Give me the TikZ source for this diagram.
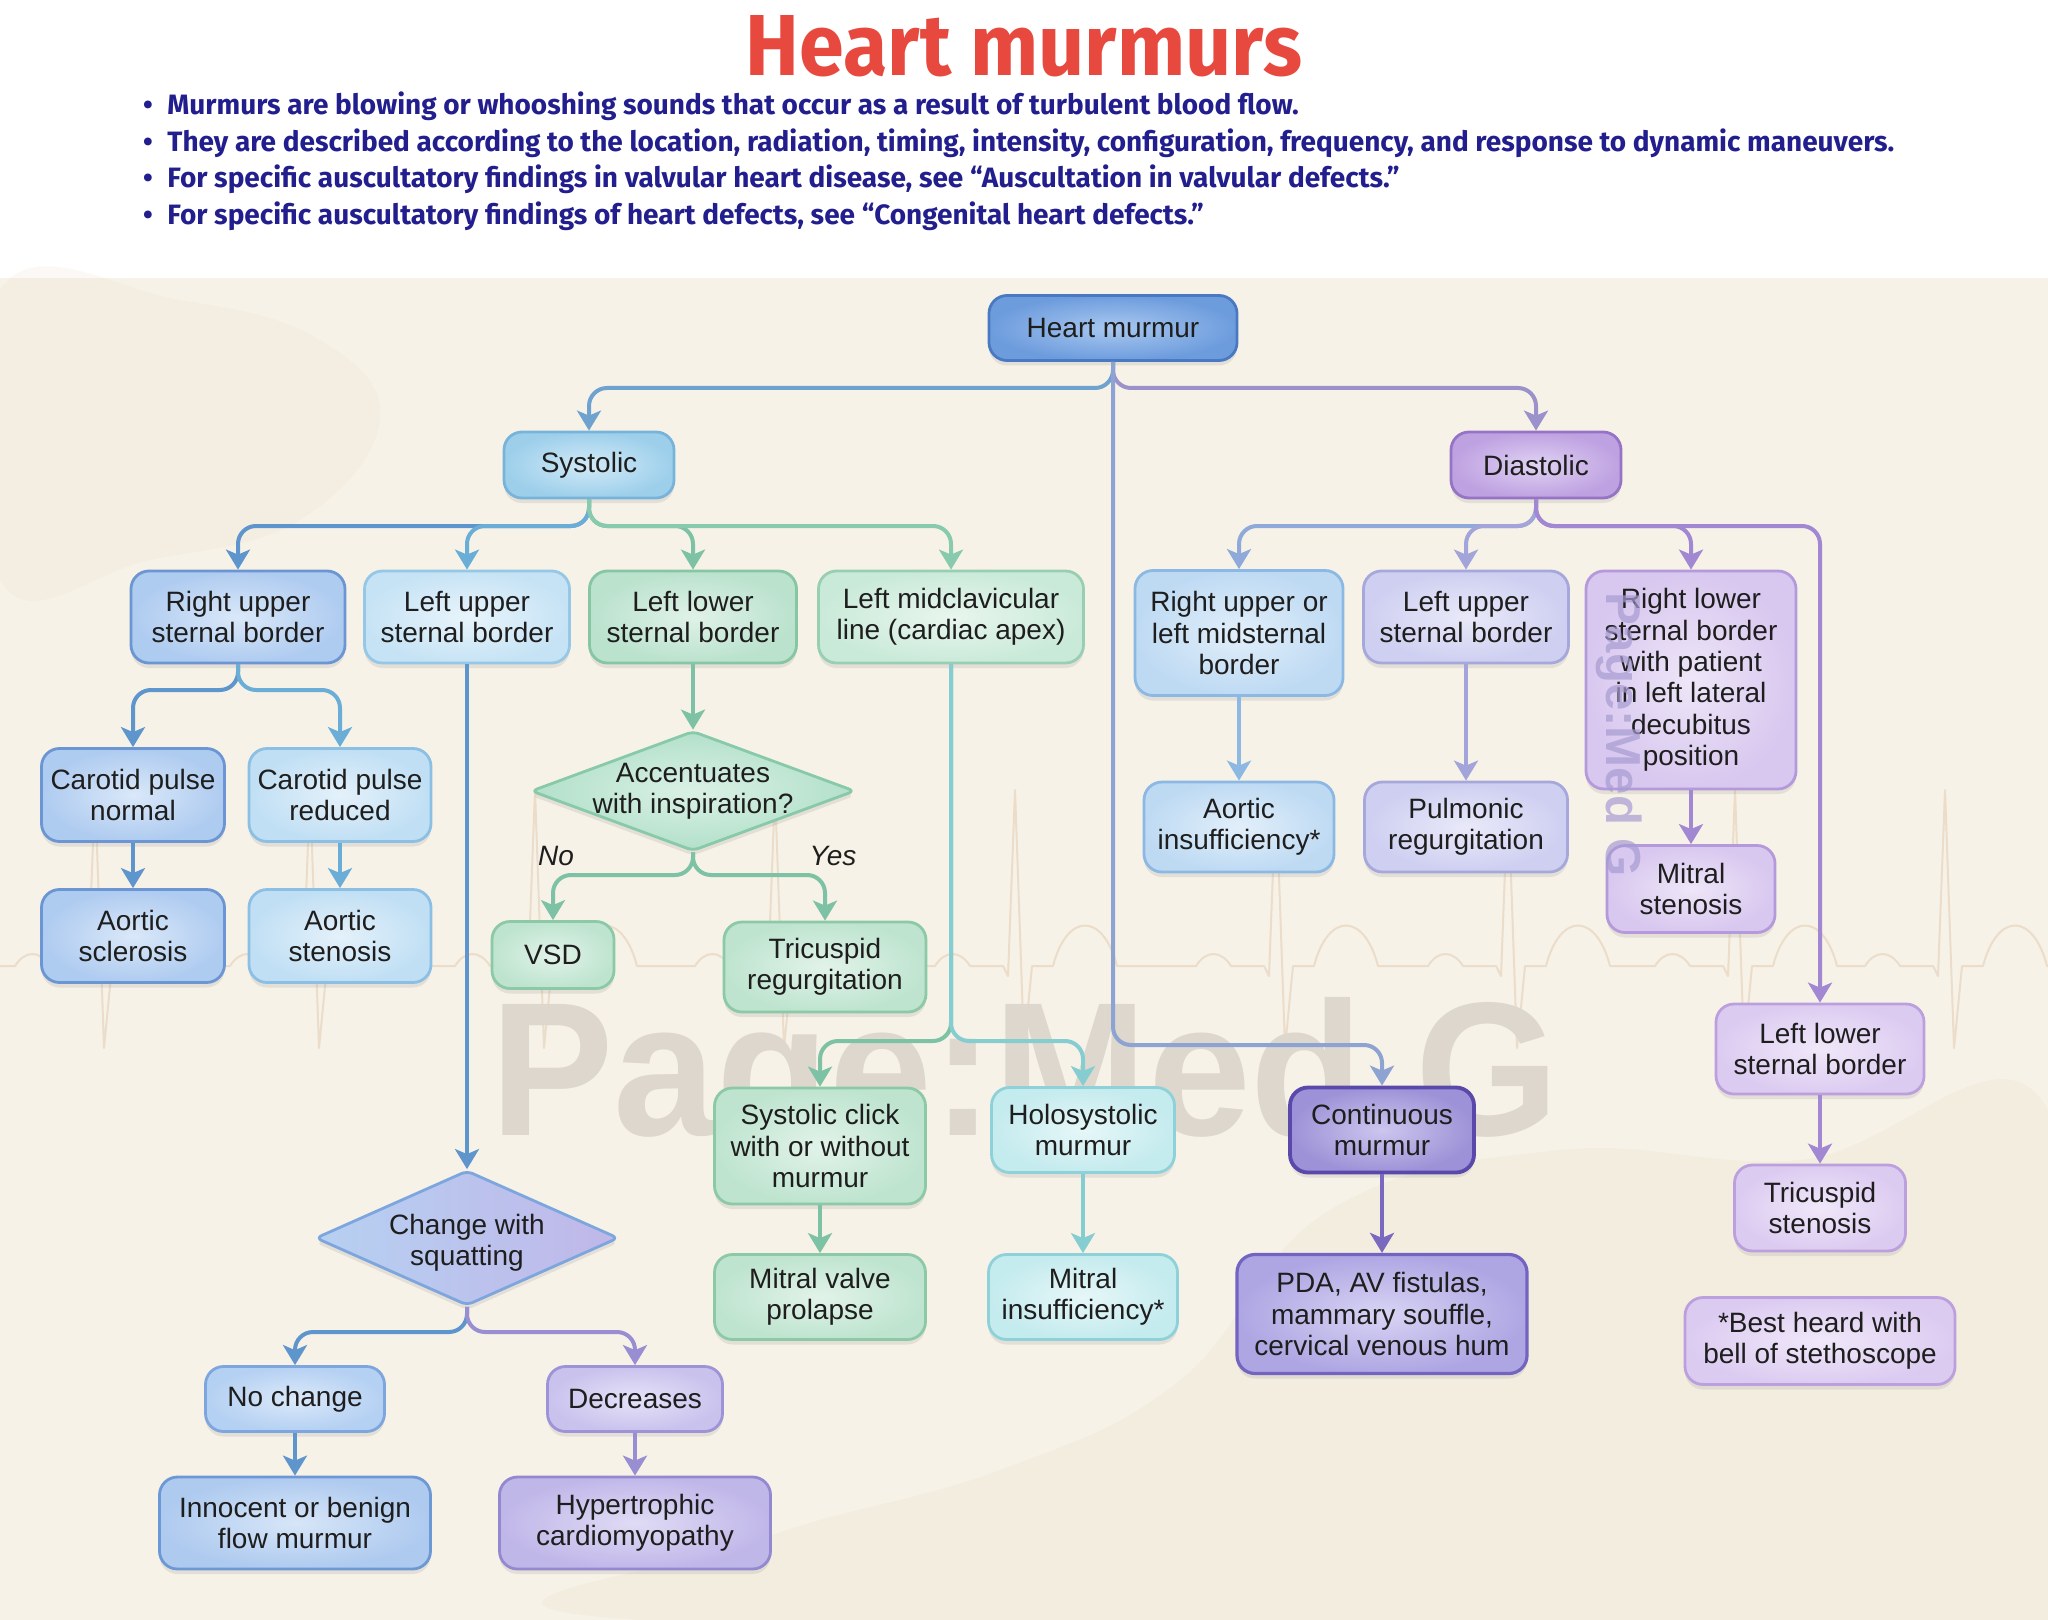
\documentclass[tikz,border=0pt]{standalone}
\usepackage{fontspec}
\setmainfont{Liberation Sans}
\newfontfamily\headfont{Fira Sans}
\usetikzlibrary{arrows.meta,shapes.geometric,shadows}
% palettes: D border, O outer fill, I inner fill
\definecolor{hmD}{HTML}{4A79C3}\definecolor{hmO}{HTML}{6D9CDD}\definecolor{hmI}{HTML}{A9C8F0}
\definecolor{syD}{HTML}{78B4DA}\definecolor{syO}{HTML}{9DCFEB}\definecolor{syI}{HTML}{D2EAF7}
\definecolor{diD}{HTML}{9573C6}\definecolor{diO}{HTML}{BEA1E1}\definecolor{diI}{HTML}{E0D2F3}
\definecolor{ruD}{HTML}{6C96D3}\definecolor{ruO}{HTML}{AECBF0}\definecolor{ruI}{HTML}{DAE8F9}
\definecolor{luD}{HTML}{95C7E6}\definecolor{luO}{HTML}{C6E3F5}\definecolor{luI}{HTML}{E8F4FB}
\definecolor{llD}{HTML}{86C6A5}\definecolor{llO}{HTML}{BAE2CD}\definecolor{llI}{HTML}{E0F2E8}
\definecolor{lmD}{HTML}{98CFB2}\definecolor{lmO}{HTML}{CAEAD9}\definecolor{lmI}{HTML}{E8F6EE}
\definecolor{crD}{HTML}{8BC0E4}\definecolor{crO}{HTML}{C0DFF4}\definecolor{crI}{HTML}{E4F1FA}
\definecolor{acD}{HTML}{88C9A9}\definecolor{acO}{HTML}{B2E0CA}\definecolor{acI}{HTML}{DAF1E5}
\definecolor{gnD}{HTML}{8BC9A7}\definecolor{gnO}{HTML}{BEE4CF}\definecolor{gnI}{HTML}{E2F3E9}
\definecolor{tlD}{HTML}{8ED1D8}\definecolor{tlO}{HTML}{C4EBEE}\definecolor{tlI}{HTML}{E6F7F8}
\definecolor{coD}{HTML}{5A48AA}\definecolor{coO}{HTML}{9D92D7}\definecolor{coI}{HTML}{CDC6EE}
\definecolor{pdD}{HTML}{7264C0}\definecolor{pdO}{HTML}{AEA6E3}\definecolor{pdI}{HTML}{D8D4F4}
\definecolor{ncD}{HTML}{7CA6DD}\definecolor{ncO}{HTML}{B4D0F2}\definecolor{ncI}{HTML}{DBE9FA}
\definecolor{inD}{HTML}{6C99D6}\definecolor{inO}{HTML}{AECAEF}\definecolor{inI}{HTML}{D7E6F8}
\definecolor{deD}{HTML}{9D93D6}\definecolor{deO}{HTML}{C9C2ED}\definecolor{deI}{HTML}{E6E2F8}
\definecolor{hcD}{HTML}{9488D0}\definecolor{hcO}{HTML}{C0B7E9}\definecolor{hcI}{HTML}{E0DBF5}
\definecolor{rmD}{HTML}{8CB9E4}\definecolor{rmO}{HTML}{BEDAF3}\definecolor{rmI}{HTML}{E2EFFA}
\definecolor{dlD}{HTML}{A6A8DC}\definecolor{dlO}{HTML}{CECFF1}\definecolor{dlI}{HTML}{E9E9F9}
\definecolor{rlD}{HTML}{B59ADB}\definecolor{rlO}{HTML}{D8C7EF}\definecolor{rlI}{HTML}{EEE6F8}
\definecolor{dxD}{HTML}{BBA0DD}\definecolor{dxO}{HTML}{DCCBF1}\definecolor{dxI}{HTML}{F0E8F9}
% connectors
\definecolor{cHMs}{HTML}{6FA2CF}\definecolor{cHMd}{HTML}{9B92CB}\definecolor{cHMc}{HTML}{8DA3D2}
\definecolor{cRUSB}{HTML}{5E95CC}\definecolor{cLUSB}{HTML}{6AAED8}\definecolor{cLLSB}{HTML}{7DC2A4}
\definecolor{cLMCL}{HTML}{88CAAE}\definecolor{cTEAL}{HTML}{86CDD2}\definecolor{cPUR}{HTML}{A287D2}
\definecolor{cLAV}{HTML}{A3A4DA}\definecolor{cAI}{HTML}{8DB8E3}\definecolor{cCONT}{HTML}{7B69C0}
\definecolor{cDEC}{HTML}{9A8ED2}\definecolor{cRU}{HTML}{8FA9DA}
% misc
\definecolor{txt}{HTML}{1E1E1E}\definecolor{bg}{HTML}{F7F2E7}\definecolor{ecg}{HTML}{EBDDC9}
\definecolor{titlered}{HTML}{E8493F}\definecolor{bulletblue}{HTML}{221E8E}
\definecolor{wmark}{HTML}{DDD7CD}\definecolor{wmarkp}{HTML}{A79CD2}\definecolor{stain}{HTML}{EDE3D2}
\newcommand\boxfont{\fontsize{14pt}{15.7pt}\selectfont}
\newcommand\hdfont{\headfont\bfseries\fontsize{14pt}{16pt}\selectfont}
\newlength\bulletlen
\begin{document}
\settowidth\bulletlen{\hdfont They are described according to the location, radiation, timing, intensity, configuration, frequency, and response to dynamic maneuvers.}%
\pgfmathsetmacro\bsx{863.5/\bulletlen}%
\begin{tikzpicture}[x=0.5pt,y=-0.5pt,
  box/.style={rounded corners=9pt, line width=1.4pt, align=center, text=txt, font=\boxfont, inner sep=2pt,
    drop shadow={opacity=0.16, shadow xshift=0pt, shadow yshift=-2.5pt}},
  pal/.style={draw=#1D, inner color=#1I, outer color=#1O},
  sz/.style 2 args={minimum width=#1, minimum height=#2},
  conn/.style={line width=2pt, rounded corners=9pt, draw=#1, -{Stealth[length=10pt,width=12pt,inset=2.5pt]}},
  diam/.style={diamond, inner sep=0pt, rounded corners=3pt, line width=1.4pt,
    drop shadow={opacity=0.16, shadow xshift=0pt, shadow yshift=-2.5pt}},
  lbl/.style={align=center, text=txt, font=\boxfont, inner sep=0pt}]
\useasboundingbox (0,0) rectangle (2048,1620);
\fill[white] (0,0) rectangle (2048,278);
\fill[bg] (0,278) rectangle (2048,1620);
\fill[stain, opacity=0.3] plot[smooth cycle, tension=0.7] coordinates {(640,1620) (760,1540) (1000,1470) (1180,1380) (1330,1210) (1560,1150) (1800,1160) (2048,1110) (2048,1620)};
\fill[stain, opacity=0.22] plot[smooth cycle, tension=0.7] coordinates {(0,290) (180,300) (320,340) (380,420) (300,520) (150,560) (0,580)};
% ECG trace
\draw[ecg, line width=1pt, line join=round] (0,966)
  \foreach \x in {95,310,535,775,1015,1276,1508,1735,1945} {
    -- (\x-80,966) .. controls (\x-70,950) and (\x-55,950) .. (\x-45,966)
    -- (\x-12,966) -- (\x-7,976) -- (\x,790) -- (\x+9,1048) -- (\x+17,966)
    -- (\x+38,966) .. controls (\x+52,912) and (\x+88,912) .. (\x+102,966) }
  -- (2048,966);
% watermark
\node[anchor=base west, inner sep=0pt, text=wmark] (wm) at (490,1135)
  {\resizebox{534pt}{69pt}{\bfseries Page:Med G}};
% title and bullets
\node[anchor=base, inner sep=0pt, text=titlered] (title) at (1024,76)
  {\resizebox{278pt}{30pt}{\headfont\bfseries Heart murmurs}};
\foreach \yy/\nm/\tx in {
  115/b1/{Murmurs are blowing or whooshing sounds that occur as a result of turbulent blood flow.},
  151.5/b2/{They are described according to the location, radiation, timing, intensity, configuration, frequency, and response to dynamic maneuvers.},
  188/b3/{For specific auscultatory findings in valvular heart disease, see “Auscultation in valvular defects.”},
  224.5/b4/{For specific auscultatory findings of heart defects, see “Congenital heart defects.”}} {
  \node[anchor=base, inner sep=0pt, text=bulletblue] (\nm dot) at (148,\yy) {\hdfont •};
  \node[anchor=base west, inner sep=0pt, text=bulletblue] (\nm) at (167,\yy) {\scalebox{\bsx}[1]{\hdfont \tx}};
}
% ---------- nodes ----------
\node[box, pal=hm, sz={124pt}{32.5pt}] (hm) at (1113,328) {Heart murmur};
\node[box, pal=sy, sz={85pt}{33pt}] (sys) at (589,465) {Systolic};
\node[box, pal=di, sz={85pt}{33pt}] (dia) at (1536,465) {Diastolic};
\node[box, pal=ru, sz={107pt}{46pt}] (rusb) at (238,617) {Right upper\\sternal border};
\node[box, pal=lu, sz={102.5pt}{46pt}] (lusb) at (467,617) {Left upper\\sternal border};
\node[box, pal=ll, sz={103.5pt}{46pt}] (llsb) at (693,617) {Left lower\\sternal border};
\node[box, pal=lm, sz={132.5pt}{46pt}] (lmcl) at (951,617) {Left midclavicular\\line (cardiac apex)};
\node[box, pal=rm, sz={104pt}{62.5pt}] (rulm) at (1239,633) {Right upper or\\left midsternal\\border};
\node[box, pal=dl, sz={102.5pt}{46pt}] (dlusb) at (1466,617) {Left upper\\sternal border};
\node[box, pal=rl, sz={105pt}{109pt}] (rlsb) at (1691,680) {Right lower\\sternal border\\with patient\\in left lateral\\decubitus\\position};
\node[box, pal=ru, sz={91.5pt}{46.5pt}] (cpn) at (133,795) {Carotid pulse\\normal};
\node[box, pal=cr, sz={91pt}{46.5pt}] (cpr) at (340,795) {Carotid pulse\\reduced};
\node[box, pal=ru, sz={91.5pt}{46.5pt}] (asc) at (133,936) {Aortic\\sclerosis};
\node[box, pal=cr, sz={91pt}{46.5pt}] (ast) at (340,936) {Aortic\\stenosis};
\node[diam, pal=ac, minimum width=162pt, minimum height=60pt] (acc) at (693,791) {};
\node[lbl] (acct) at (acc) {Accentuates\\with inspiration?};
\node[lbl, font=\boxfont\itshape] (lno) at (556,856) {No};
\node[lbl, font=\boxfont\itshape] (lyes) at (833,856) {Yes};
\node[box, pal=gn, sz={61pt}{33.5pt}] (vsd) at (553,955) {VSD};
\node[box, pal=gn, sz={101pt}{45pt}] (tr) at (825,967) {Tricuspid\\regurgitation};
\node[box, pal=gn, sz={105.5pt}{58pt}] (sc) at (820,1146) {Systolic click\\with or without\\murmur};
\node[box, pal=tl, sz={91.5pt}{42.5pt}] (holo) at (1083,1130) {Holosystolic\\murmur};
\node[box, pal=co, sz={92pt}{42.5pt}, line width=1.9pt] (cont) at (1382,1130) {Continuous\\murmur};
\node[box, pal=gn, sz={105.5pt}{42.5pt}] (mvp) at (820,1297) {Mitral valve\\prolapse};
\node[box, pal=tl, sz={94.5pt}{42.5pt}] (mi) at (1083,1297) {Mitral\\insufficiency*};
\node[box, pal=pd, sz={145pt}{59.5pt}, line width=1.6pt] (pda) at (1382,1314) {PDA, AV fistulas,\\mammary souffle,\\cervical venous hum};
\node[diam, draw=ncD, left color=ruO!90!white, right color=hcO, minimum width=151.5pt, minimum height=67.5pt] (chg) at (467,1238) {};
\node[lbl] (chgt) at (467,1243) {Change with\\squatting};
\node[box, pal=nc, sz={89.5pt}{32.5pt}] (noch) at (295,1399) {No change};
\node[box, pal=de, sz={87.5pt}{32.5pt}] (dec) at (635,1399) {Decreases};
\node[box, pal=in, sz={135.5pt}{46pt}] (inn) at (295,1523) {Innocent or benign\\flow murmur};
\node[box, pal=hc, sz={135.5pt}{46pt}] (hcm) at (635,1523) {Hypertrophic\\cardiomyopathy};
\node[box, pal=rm, sz={95pt}{45pt}] (ai) at (1239,827) {Aortic\\insufficiency*};
\node[box, pal=dl, sz={101.5pt}{45pt}] (pr) at (1466,827) {Pulmonic\\regurgitation};
\node[box, pal=rl, sz={84pt}{43.5pt}] (ms) at (1691,889) {Mitral\\stenosis};
\node[box, pal=dx, sz={104pt}{45pt}] (dllsb) at (1820,1049) {Left lower\\sternal border};
\node[box, pal=dx, sz={85.5pt}{43pt}] (ts) at (1820,1208) {Tricuspid\\stenosis};
\node[box, pal=dx, sz={135pt}{43.5pt}] (note) at (1820,1341) {*Best heard with\\bell of stethoscope};
% ---------- connectors ----------
\draw[conn=cHMs] (hm.south) -- (hm.south |- 0,388) -- (sys.north |- 0,388) -- (sys.north);
\draw[conn=cHMd] (hm.south) -- (hm.south |- 0,388) -- (dia.north |- 0,388) -- (dia.north);
\draw[conn=cHMc] (hm.south) -- (hm.south |- 0,1045) -- (cont.north |- 0,1045) -- (cont.north);
\foreach \t/\c in {rusb/cRUSB, lusb/cLUSB, llsb/cLLSB, lmcl/cLMCL}
  \draw[conn=\c] (sys.south) -- (sys.south |- 0,526) -- (\t.north |- 0,526) -- (\t.north);
\draw[conn=cRUSB] (rusb.south) -- (rusb.south |- 0,690) -- (cpn.north |- 0,690) -- (cpn.north);
\draw[conn=cLUSB] (rusb.south) -- (rusb.south |- 0,690) -- (cpr.north |- 0,690) -- (cpr.north);
\draw[conn=cRUSB] (cpn.south) -- (asc.north);
\draw[conn=cLUSB] (cpr.south) -- (ast.north);
\draw[conn=cRUSB] (lusb.south) -- (chg.north);
\draw[conn=cLLSB] (llsb.south) -- (acc.north);
\draw[conn=cLLSB] (acc.south) -- (acc.south |- 0,875) -- (vsd.north |- 0,875) -- (vsd.north);
\draw[conn=cLLSB] (acc.south) -- (acc.south |- 0,875) -- (tr.north |- 0,875) -- (tr.north);
\draw[conn=cLLSB] (lmcl.south) -- (lmcl.south |- 0,1041) -- (sc.north |- 0,1041) -- (sc.north);
\draw[conn=cTEAL] (lmcl.south) -- (lmcl.south |- 0,1041) -- (holo.north |- 0,1041) -- (holo.north);
\draw[conn=cLLSB] (sc.south) -- (mvp.north);
\draw[conn=cTEAL] (holo.south) -- (mi.north);
\draw[conn=cCONT] (cont.south) -- (pda.north);
\draw[conn=cRUSB] (chg.south) -- (chg.south |- 0,1332) -- (noch.north |- 0,1332) -- (noch.north);
\draw[conn=cDEC] (chg.south) -- (chg.south |- 0,1332) -- (dec.north |- 0,1332) -- (dec.north);
\draw[conn=cRUSB] (noch.south) -- (inn.north);
\draw[conn=cDEC] (dec.south) -- (hcm.north);
\draw[conn=cRU] (dia.south) -- (dia.south |- 0,526) -- (rulm.north |- 0,526) -- (rulm.north);
\draw[conn=cLAV] (dia.south) -- (dia.south |- 0,526) -- (dlusb.north |- 0,526) -- (dlusb.north);
\draw[conn=cPUR] (dia.south) -- (dia.south |- 0,526) -- (rlsb.north |- 0,526) -- (rlsb.north);
\draw[conn=cPUR] (dia.south) -- (dia.south |- 0,526) -- (dllsb.north |- 0,526) -- (dllsb.north);
\draw[conn=cAI] (rulm.south) -- (ai.north);
\draw[conn=cLAV] (dlusb.south) -- (pr.north);
\draw[conn=cPUR] (rlsb.south) -- (ms.north);
\draw[conn=cPUR] (dllsb.south) -- (ts.north);
% rotated watermark
\node[rotate=-90, inner sep=0pt, text=wmarkp, opacity=0.7] (wm2) at (1619,735)
  {\resizebox{142pt}{!}{\bfseries Page:Med G}};
\end{tikzpicture}
\end{document}
